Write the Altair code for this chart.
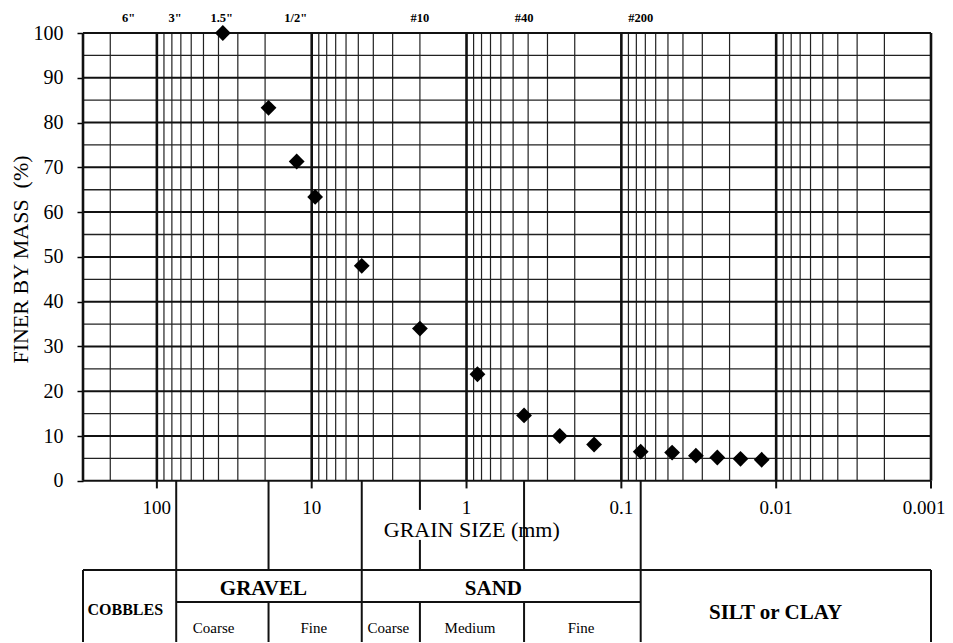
import altair as alt
import pandas as pd

# ---------------- data ----------------
grain_mm = [37.5, 19.0, 12.5, 9.5, 4.75, 2.0, 0.85, 0.425, 0.25, 0.15,
            0.075, 0.047, 0.033, 0.024, 0.017, 0.0124]
finer_pct = [100, 83.3, 71.3, 63.4, 48.0, 34.0, 23.8, 14.6, 10.0, 8.1,
             6.5, 6.3, 5.6, 5.2, 4.9, 4.7]

sieve_labels = ['6"', '3"', '1.5"', '1/2"', '#10', '#40', '#200']
sieve_mm = [152.4, 76.2, 38.1, 12.7, 2.0, 0.425, 0.075]

decade_mm = [100, 10, 1, 0.1, 0.01, 0.001]
decade_text = ["100", "10", "1", "0.1", "0.01", "0.001"]

border_mm = [300, 0.001]
decade_lines = [100, 10, 1, 0.1, 0.01]
minor_mult = [9, 8, 7, 6, 5, 4, 3, 2]
minor_exp = [1, 0, -1, -2, -3]
major_pct = list(range(0, 101, 10))
minor_pct = list(range(5, 100, 10))

# soil classification boundaries (mm)
boundary_mm = [75, 19, 4.75, 2.0, 0.425, 0.075]

# table text
table_labels = ["COBBLES", "GRAVEL", "SAND", "SILT or CLAY"]
table_label_mm = [160, 20.5, 0.67, 0.0101]
sub_labels = ["Coarse", "Fine", "Coarse", "Medium", "Fine"]
sub_label_mm = [43, 9.7, 3.2, 0.95, 0.182]

X_TITLE = "GRAIN SIZE (mm)"
Y_TITLE = "FINER BY MASS\u00a0 (%)"

# ---------------- layout constants (chart units) ----------------
Y_MIN = -36
TABLE_TOP = -19.92
ROW_SEP = -27.07
HEADER_Y = -24.2
SUB_Y = -32.9
FONT = "Liberation Serif"

xs = alt.Scale(type="log", domain=[0.001, 300], reverse=True, nice=False)
ys = alt.Scale(domain=[Y_MIN, 100], nice=False, zero=False)
y_axis = alt.Axis(values=major_pct, grid=False, domain=False, ticks=True,
                  tickSize=6, tickWidth=1.5, tickColor="black",
                  labelFont=FONT, labelFontSize=20, labelColor="black",
                  labelPadding=14, title=Y_TITLE, titleFont=FONT,
                  titleFontSize=22, titleFontWeight="normal",
                  titleColor="black", titleX=-63, titleY=226,
                  titleAngle=270, titleAlign="center",
                  titleBaseline="middle")


def X(f):
    return alt.X(f"{f}:Q", scale=xs, axis=None)


def Y(f):
    return alt.Y(f"{f}:Q", scale=ys, axis=y_axis)


# ---------------- tables ----------------
minor_x = [m * 10.0 ** e for e in minor_exp for m in minor_mult] + [200]
vminor = pd.DataFrame({"x": minor_x, "y": 0, "y2": 100})
vmajor = pd.DataFrame({"x": decade_lines + border_mm, "y": 0, "y2": 100})
hmajor = pd.DataFrame({"x": 300, "x2": 0.001, "y": major_pct})
hminor = pd.DataFrame({"x": 300, "x2": 0.001, "y": minor_pct})
dticks = pd.DataFrame({"x": decade_mm, "y": 0, "y2": -1.7})

b = boundary_mm
seg_v = pd.DataFrame(
    [(b[0], 0, TABLE_TOP), (b[1], 0, TABLE_TOP), (b[2], 0, TABLE_TOP),
     (b[3], 0, -6.5), (b[3], -13.2, TABLE_TOP), (b[4], 0, TABLE_TOP),
     (b[5], 0, TABLE_TOP),
     (300, TABLE_TOP, Y_MIN), (b[0], TABLE_TOP, Y_MIN),
     (b[1], ROW_SEP, Y_MIN), (b[2], TABLE_TOP, Y_MIN),
     (b[3], ROW_SEP, Y_MIN), (b[4], ROW_SEP, Y_MIN),
     (b[5], TABLE_TOP, Y_MIN), (0.001, TABLE_TOP, Y_MIN)],
    columns=["x", "y", "y2"])
seg_h = pd.DataFrame([(300, 0.001, TABLE_TOP), (b[0], b[5], ROW_SEP)],
                     columns=["x", "x2", "y"])

pts = pd.DataFrame({"size": grain_mm, "finer": finer_pct})
sieves = pd.DataFrame({"x": sieve_mm, "y": 103.35, "t": sieve_labels})
xlabs = pd.DataFrame({"x": decade_mm[:-1], "y": -6.1, "t": decade_text[:-1]})
xlab_last = pd.DataFrame({"x": decade_mm[-1:], "y": -6.1,
                          "t": decade_text[-1:]})
xtitle = pd.DataFrame({"x": [0.925], "y": [-11.1], "t": [X_TITLE]})
head = pd.DataFrame({"x": table_label_mm[1:3], "y": HEADER_Y,
                     "t": table_labels[1:3]})
cob = pd.DataFrame({"x": [table_label_mm[0]], "y": [-28.9],
                    "t": [table_labels[0]]})
silt = pd.DataFrame({"x": [table_label_mm[3]], "y": [-29.5],
                     "t": [table_labels[3]]})
subs = pd.DataFrame({"x": sub_label_mm, "y": SUB_Y, "t": sub_labels})

INK = "#111111"

layers = [
    alt.Chart(vminor).mark_rule(color="#222222", strokeWidth=1.2).encode(
        x=X("x"), y=Y("y"), y2="y2"),
    alt.Chart(hminor).mark_rule(color="#222222", strokeWidth=1.3).encode(
        x=X("x"), x2="x2", y=Y("y")),
    alt.Chart(hmajor).mark_rule(color=INK, strokeWidth=2).encode(
        x=X("x"), x2="x2", y=Y("y")),
    alt.Chart(vmajor).mark_rule(color=INK, strokeWidth=2.6).encode(
        x=X("x"), y=Y("y"), y2="y2"),
    alt.Chart(dticks).mark_rule(color=INK, strokeWidth=2).encode(
        x=X("x"), y=Y("y"), y2="y2"),
    alt.Chart(seg_v).mark_rule(color=INK, strokeWidth=2).encode(
        x=X("x"), y=Y("y"), y2="y2"),
    alt.Chart(seg_h).mark_rule(color=INK, strokeWidth=2).encode(
        x=X("x"), x2="x2", y=Y("y")),
    alt.Chart(pts).mark_point(shape="diamond", filled=True, size=250,
                              color="black", opacity=1).encode(
        x=X("size"), y=Y("finer")),
    alt.Chart(sieves).mark_text(font=FONT, fontSize=12.5, fontWeight="bold",
                                color="black", baseline="middle").encode(
        x=X("x"), y=Y("y"), text="t:N"),
    alt.Chart(xlabs).mark_text(font=FONT, fontSize=19, color="black",
                               baseline="middle").encode(
        x=X("x"), y=Y("y"), text="t:N"),
    alt.Chart(xlab_last).mark_text(font=FONT, fontSize=19, color="black",
                                   baseline="middle", dx=-7).encode(
        x=X("x"), y=Y("y"), text="t:N"),
    alt.Chart(xtitle).mark_text(font=FONT, fontSize=22, color="black",
                                baseline="middle").encode(
        x=X("x"), y=Y("y"), text="t:N"),
    alt.Chart(head).mark_text(font=FONT, fontSize=21, fontWeight="bold",
                              color="black", baseline="middle").encode(
        x=X("x"), y=Y("y"), text="t:N"),
    alt.Chart(cob).mark_text(font=FONT, fontSize=16, fontWeight="bold",
                             color="black", baseline="middle").encode(
        x=X("x"), y=Y("y"), text="t:N"),
    alt.Chart(silt).mark_text(font=FONT, fontSize=21, fontWeight="bold",
                              color="black", baseline="middle").encode(
        x=X("x"), y=Y("y"), text="t:N"),
    alt.Chart(subs).mark_text(font=FONT, fontSize=15, color="black",
                              baseline="middle").encode(
        x=X("x"), y=Y("y"), text="t:N"),
]

chart = alt.layer(*layers).properties(
    width=848, height=609,
    padding={"left": 75, "top": 25, "right": 14, "bottom": 0},
    autosize=alt.AutoSizeParams(type="none"),
    background="white",
).configure_view(strokeWidth=0)

chart.save("out.html", embed_options={"renderer": "svg", "actions": False})
